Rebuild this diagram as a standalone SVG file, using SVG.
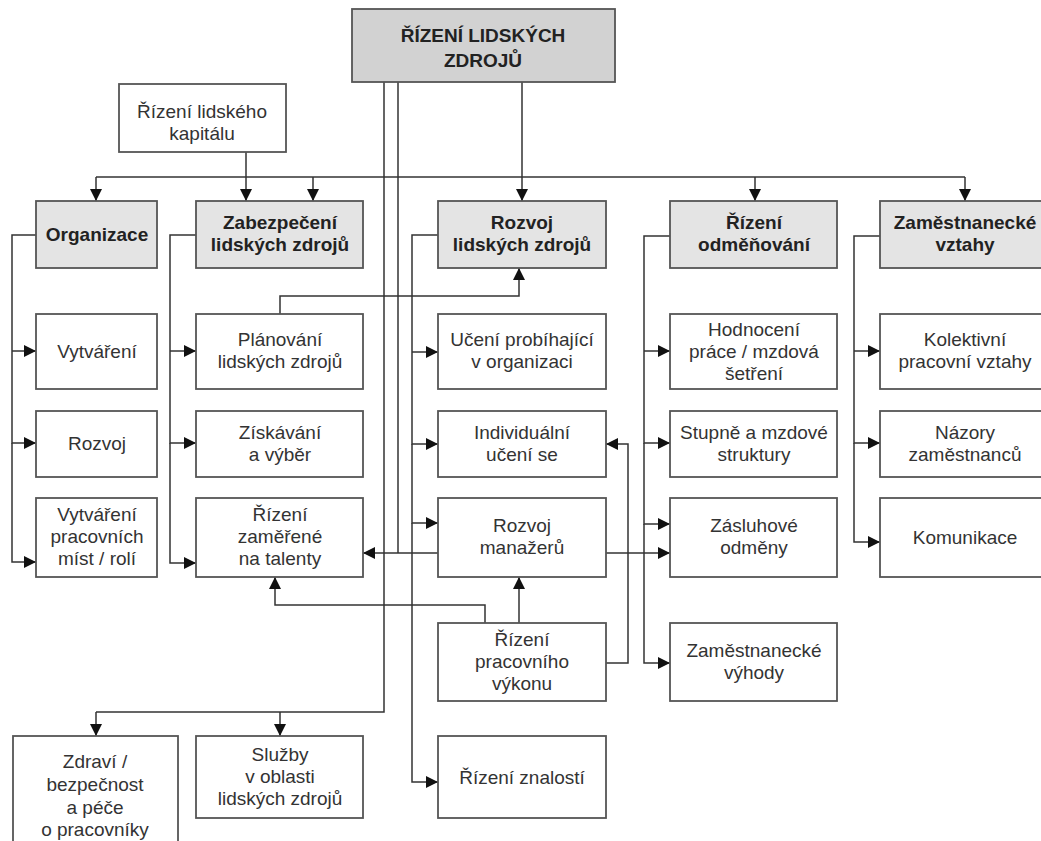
<svg xmlns="http://www.w3.org/2000/svg" width="1041" height="841" viewBox="0 0 1041 841">
<defs>
<marker id="ah" markerUnits="userSpaceOnUse" markerWidth="12" markerHeight="12" refX="12" refY="6" orient="auto">
<path d="M0,0 L12,6 L0,12 z" fill="#111"/>
</marker>
<style>
.box{fill:#fff;stroke:#555;stroke-width:1.8}
.hdr{fill:#e4e4e4;stroke:#555;stroke-width:1.8}
.top{fill:#d2d2d2;stroke:#555;stroke-width:1.8}
text{font-family:"Liberation Sans",Arial,sans-serif;font-size:19px;fill:#333;text-anchor:middle}
.b{font-weight:bold;fill:#222}
.c path{fill:none;stroke:#333;stroke-width:1.5}
.c .a{marker-end:url(#ah)}
</style>
</defs>
<rect width="1041" height="841" fill="#fff"/>
<g class="c">
<path d="M96,177 H965"/>
<path class="a" d="M96,177 V201"/>
<path class="a" d="M313,177 V201"/>
<path class="a" d="M755,177 V201"/>
<path class="a" d="M965,177 V201"/>
<path class="a" d="M246,152 V201"/>
<path class="a" d="M522,82 V201"/>
<path d="M384,82 V712 H96"/>
<path class="a" d="M96,712 V736"/>
<path class="a" d="M280,712 V736"/>
<path d="M398,82 V553"/>
<path class="a" d="M438,553 H363"/>
<path d="M36,235 H12 V351"/>
<path class="a" d="M12,351 H36"/>
<path class="a" d="M12,351 V443 H36"/>
<path class="a" d="M12,443 V562 H36"/>
<path d="M196,235 H170 V351"/>
<path class="a" d="M170,351 H196"/>
<path class="a" d="M170,351 V443 H196"/>
<path class="a" d="M170,443 V563 H196"/>
<path d="M438,235 H412 V352"/>
<path class="a" d="M412,352 H438"/>
<path class="a" d="M412,352 V444 H438"/>
<path class="a" d="M412,444 V523 H438"/>
<path class="a" d="M412,523 V782 H438"/>
<path d="M670,236 H644 V351"/>
<path class="a" d="M644,351 H670"/>
<path class="a" d="M644,351 V443 H670"/>
<path class="a" d="M644,443 V524 H670"/>
<path class="a" d="M644,524 V663 H670"/>
<path d="M880,236 H854 V351"/>
<path class="a" d="M854,351 H880"/>
<path class="a" d="M854,351 V443 H880"/>
<path class="a" d="M854,443 V542 H880"/>
<path class="a" d="M280,314 V296 H519 V268"/>
<path class="a" d="M519,623 V577"/>
<path class="a" d="M485,623 V605 H275 V577"/>
<path class="a" d="M606,663 H628 V444 H606"/>
<path class="a" d="M606,553 H670"/>
</g>
<g id="n-top"><rect class="top" x="352" y="9" width="263" height="73"/><text class="b" x="483" y="42">ŘÍZENÍ LIDSKÝCH</text><text class="b" x="483" y="67">ZDROJŮ</text></g>
<g id="n-kapital"><rect class="box" x="119" y="84" width="167" height="68"/><text x="202" y="118">Řízení lidského</text><text x="202" y="140">kapitálu</text></g>
<g id="n-organizace"><rect class="hdr" x="36" y="201" width="121" height="67"/><text class="b" x="97" y="241">Organizace</text></g>
<g id="n-zabezpeceni"><rect class="hdr" x="196" y="201" width="167" height="67"/><text class="b" x="280" y="229">Zabezpečení</text><text class="b" x="280" y="251">lidských zdrojů</text></g>
<g id="n-rozvoj"><rect class="hdr" x="438" y="201" width="168" height="67"/><text class="b" x="522" y="229">Rozvoj</text><text class="b" x="522" y="251">lidských zdrojů</text></g>
<g id="n-odmenovani"><rect class="hdr" x="670" y="201" width="167" height="67"/><text class="b" x="754" y="229">Řízení</text><text class="b" x="754" y="251">odměňování</text></g>
<g id="n-vztahy"><rect class="hdr" x="880" y="201" width="170" height="67"/><text class="b" x="965" y="229">Zaměstnanecké</text><text class="b" x="965" y="251">vztahy</text></g>
<g id="n-vytvareni"><rect class="box" x="36" y="314" width="121" height="75"/><text x="97" y="358">Vytváření</text></g>
<g id="n-rozvoj2"><rect class="box" x="36" y="411" width="121" height="66"/><text x="97" y="450">Rozvoj</text></g>
<g id="n-mista"><rect class="box" x="36" y="498" width="121" height="79"/><text x="97" y="521">Vytváření</text><text x="97" y="543">pracovních</text><text x="97" y="565">míst / rolí</text></g>
<g id="n-planovani"><rect class="box" x="196" y="314" width="167" height="75"/><text x="280" y="346">Plánování</text><text x="280" y="368">lidských zdrojů</text></g>
<g id="n-ziskavani"><rect class="box" x="196" y="411" width="167" height="66"/><text x="280" y="439">Získávání</text><text x="280" y="461">a výběr</text></g>
<g id="n-talenty"><rect class="box" x="196" y="498" width="167" height="79"/><text x="280" y="521">Řízení</text><text x="280" y="543">zaměřené</text><text x="280" y="565">na talenty</text></g>
<g id="n-uceni"><rect class="box" x="438" y="314" width="168" height="75"/><text x="522" y="346">Učení probíhající</text><text x="522" y="368">v organizaci</text></g>
<g id="n-individualni"><rect class="box" x="438" y="411" width="168" height="66"/><text x="522" y="439">Individuální</text><text x="522" y="461">učení se</text></g>
<g id="n-manazeri"><rect class="box" x="438" y="498" width="168" height="79"/><text x="522" y="532">Rozvoj</text><text x="522" y="554">manažerů</text></g>
<g id="n-vykon"><rect class="box" x="438" y="623" width="168" height="78"/><text x="522" y="646">Řízení</text><text x="522" y="668">pracovního</text><text x="522" y="690">výkonu</text></g>
<g id="n-znalosti"><rect class="box" x="438" y="736" width="168" height="82"/><text x="522" y="784">Řízení znalostí</text></g>
<g id="n-hodnoceni"><rect class="box" x="670" y="314" width="167" height="75"/><text x="754" y="336">Hodnocení</text><text x="754" y="358">práce / mzdová</text><text x="754" y="380">šetření</text></g>
<g id="n-stupne"><rect class="box" x="670" y="411" width="167" height="66"/><text x="754" y="439">Stupně a mzdové</text><text x="754" y="461">struktury</text></g>
<g id="n-zasluhove"><rect class="box" x="670" y="498" width="167" height="79"/><text x="754" y="532">Zásluhové</text><text x="754" y="554">odměny</text></g>
<g id="n-vyhody"><rect class="box" x="670" y="623" width="167" height="78"/><text x="754" y="657">Zaměstnanecké</text><text x="754" y="679">výhody</text></g>
<g id="n-kolektivni"><rect class="box" x="880" y="314" width="170" height="75"/><text x="965" y="346">Kolektivní</text><text x="965" y="368">pracovní vztahy</text></g>
<g id="n-nazory"><rect class="box" x="880" y="411" width="170" height="66"/><text x="965" y="439">Názory</text><text x="965" y="461">zaměstnanců</text></g>
<g id="n-komunikace"><rect class="box" x="880" y="498" width="170" height="79"/><text x="965" y="544">Komunikace</text></g>
<g id="n-zdravi"><rect class="box" x="13" y="736" width="165" height="120"/><text x="95" y="768">Zdraví /</text><text x="95" y="791">bezpečnost</text><text x="95" y="814">a péče</text><text x="95" y="836">o pracovníky</text></g>
<g id="n-sluzby"><rect class="box" x="196" y="736" width="167" height="82"/><text x="280" y="761">Služby</text><text x="280" y="783">v oblasti</text><text x="280" y="805">lidských zdrojů</text></g>
</svg>
